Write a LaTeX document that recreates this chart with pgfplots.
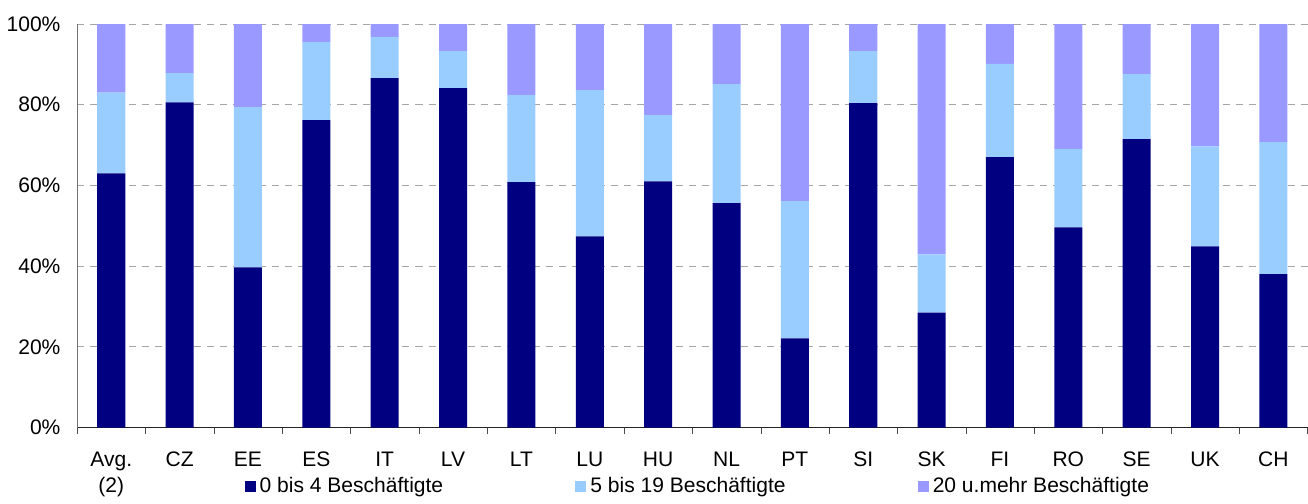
\documentclass[border=0pt]{standalone}
\usepackage{pgfplots}
\pgfplotsset{compat=1.18}
\usepackage{fontspec}
\setmainfont{Liberation Sans}
\definecolor{cA}{HTML}{000080}
\definecolor{cB}{HTML}{99CCFF}
\definecolor{cC}{HTML}{9999FF}
\begin{document}
\begin{tikzpicture}
\begin{axis}[
  scale only axis,
  width=614.5pt, height=201.5pt,
  ybar stacked, bar width=14pt,
  xmin=-0.5, xmax=17.5, ymin=0, ymax=100,
  axis x line=bottom, axis y line=left,
  axis line style={-},
  x axis line style={black!85},
  y axis line style={black!55},
  xtick={0,...,17},
  xticklabels={{Avg.\\(2)},CZ,EE,ES,IT,LV,LT,LU,HU,NL,PT,SI,SK,FI,RO,SE,UK,CH},
  xticklabel style={align=center, yshift=-4.5pt, font=\fontsize{10.5pt}{13pt}\selectfont},
  major x tick style={draw=none},
  minor xtick={-0.5,0.5,...,17.5},
  minor x tick style={black!70},
  minor tick length=3pt,
  tick align=outside,
  ytick={0,20,40,60,80,100},
  yticklabel={\pgfmathprintnumber{\tick}\%},
  /pgf/number format/assume math mode=true,
  yticklabel style={font=\fontsize{10.5pt}{12pt}\selectfont, xshift=-0.5pt},
  major y tick style={draw=none},
  ymajorgrids,
  grid style={black!35, dash pattern=on 3.5pt off 3pt},
  legend style={draw=none, at={(0.131,-0.146)}, anchor=west, legend columns=3,
    font=\fontsize{10.5pt}{12pt}\selectfont,
    /tikz/every even column/.append style={column sep=64pt}},
  legend image code/.code={\fill[#1] (0pt,-2.75pt) rectangle (5.5pt,2.75pt);},
  legend cell align=left,
]
\addplot[fill=cA, draw=none] coordinates {(0,63.0) (1,80.6) (2,39.7) (3,76.2) (4,86.6) (5,84.1) (6,60.8) (7,47.4) (8,61.0) (9,55.6) (10,22.1) (11,80.4) (12,28.5) (13,67.0) (14,49.6) (15,71.5) (16,44.9) (17,38.0)};
\addplot[fill=cB, draw=none] coordinates {(0,20.0) (1,7.2) (2,39.7) (3,19.3) (4,10.2) (5,9.2) (6,21.6) (7,36.2) (8,16.4) (9,29.5) (10,34.0) (11,12.9) (12,14.4) (13,23.1) (14,19.4) (15,16.1) (16,24.8) (17,32.7)};
\addplot[fill=cC, draw=none] coordinates {(0,17.0) (1,12.2) (2,20.6) (3,4.5) (4,3.2) (5,6.7) (6,17.6) (7,16.4) (8,22.6) (9,14.9) (10,43.9) (11,6.7) (12,57.1) (13,9.9) (14,31.0) (15,12.4) (16,30.3) (17,29.3)};
\legend{0 bis 4 Beschäftigte, 5 bis 19 Beschäftigte, 20 u.mehr Beschäftigte}
\end{axis}
\path (current axis.north) ++(0pt,12pt) node[inner sep=0pt, minimum size=0pt]{};
\end{tikzpicture}
\end{document}
